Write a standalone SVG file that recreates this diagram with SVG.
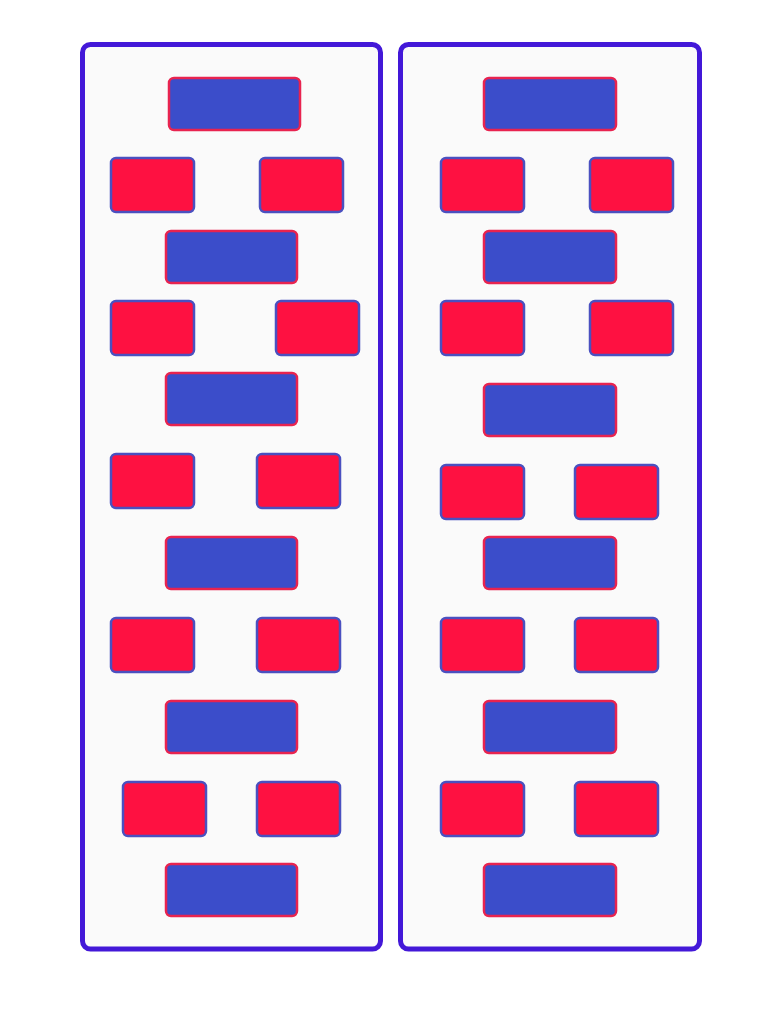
<svg xmlns="http://www.w3.org/2000/svg" width="768" height="1024" viewBox="0 0 768 1024">
<style>
.panel{fill:#fafafa;stroke:#4318d8;stroke-width:5}
.b{fill:#3b4dca;stroke:#e8234f;stroke-width:2.5}
.r{fill:#fe1141;stroke:#4a50c0;stroke-width:2.5}
</style>
<rect width="768" height="1024" fill="#ffffff"/>
<g id="panel-left">
<rect class="panel" x="82.5" y="44.5" width="298" height="904.5" rx="8"/>
</g>
<g id="panel-right">
<rect class="panel" x="400.5" y="44.5" width="299" height="904.5" rx="8"/>
</g>
<g id="left-nodes">
<g id="L1"><rect class="b" x="169" y="78" width="131" height="52" rx="5"/></g>
<g id="L2a"><rect class="r" x="111" y="158" width="83" height="54" rx="5"/></g>
<g id="L2b"><rect class="r" x="260" y="158" width="83" height="54" rx="5"/></g>
<g id="L3"><rect class="b" x="166" y="231" width="131" height="52" rx="5"/></g>
<g id="L4a"><rect class="r" x="111" y="301" width="83" height="54" rx="5"/></g>
<g id="L4b"><rect class="r" x="276" y="301" width="83" height="54" rx="5"/></g>
<g id="L5"><rect class="b" x="166" y="373" width="131" height="52" rx="5"/></g>
<g id="L6a"><rect class="r" x="111" y="454" width="83" height="54" rx="5"/></g>
<g id="L6b"><rect class="r" x="257" y="454" width="83" height="54" rx="5"/></g>
<g id="L7"><rect class="b" x="166" y="537" width="131" height="52" rx="5"/></g>
<g id="L8a"><rect class="r" x="111" y="618" width="83" height="54" rx="5"/></g>
<g id="L8b"><rect class="r" x="257" y="618" width="83" height="54" rx="5"/></g>
<g id="L9"><rect class="b" x="166" y="701" width="131" height="52" rx="5"/></g>
<g id="L10a"><rect class="r" x="123" y="782" width="83" height="54" rx="5"/></g>
<g id="L10b"><rect class="r" x="257" y="782" width="83" height="54" rx="5"/></g>
<g id="L11"><rect class="b" x="166" y="864" width="131" height="52" rx="5"/></g>
</g>
<g id="right-nodes">
<g id="R1"><rect class="b" x="484" y="78" width="132" height="52" rx="5"/></g>
<g id="R2a"><rect class="r" x="441" y="158" width="83" height="54" rx="5"/></g>
<g id="R2b"><rect class="r" x="590" y="158" width="83" height="54" rx="5"/></g>
<g id="R3"><rect class="b" x="484" y="231" width="132" height="52" rx="5"/></g>
<g id="R4a"><rect class="r" x="441" y="301" width="83" height="54" rx="5"/></g>
<g id="R4b"><rect class="r" x="590" y="301" width="83" height="54" rx="5"/></g>
<g id="R5"><rect class="b" x="484" y="384" width="132" height="52" rx="5"/></g>
<g id="R6a"><rect class="r" x="441" y="465" width="83" height="54" rx="5"/></g>
<g id="R6b"><rect class="r" x="575" y="465" width="83" height="54" rx="5"/></g>
<g id="R7"><rect class="b" x="484" y="537" width="132" height="52" rx="5"/></g>
<g id="R8a"><rect class="r" x="441" y="618" width="83" height="54" rx="5"/></g>
<g id="R8b"><rect class="r" x="575" y="618" width="83" height="54" rx="5"/></g>
<g id="R9"><rect class="b" x="484" y="701" width="132" height="52" rx="5"/></g>
<g id="R10a"><rect class="r" x="441" y="782" width="83" height="54" rx="5"/></g>
<g id="R10b"><rect class="r" x="575" y="782" width="83" height="54" rx="5"/></g>
<g id="R11"><rect class="b" x="484" y="864" width="132" height="52" rx="5"/></g>
</g>
<g id="connectors"></g>
</svg>
